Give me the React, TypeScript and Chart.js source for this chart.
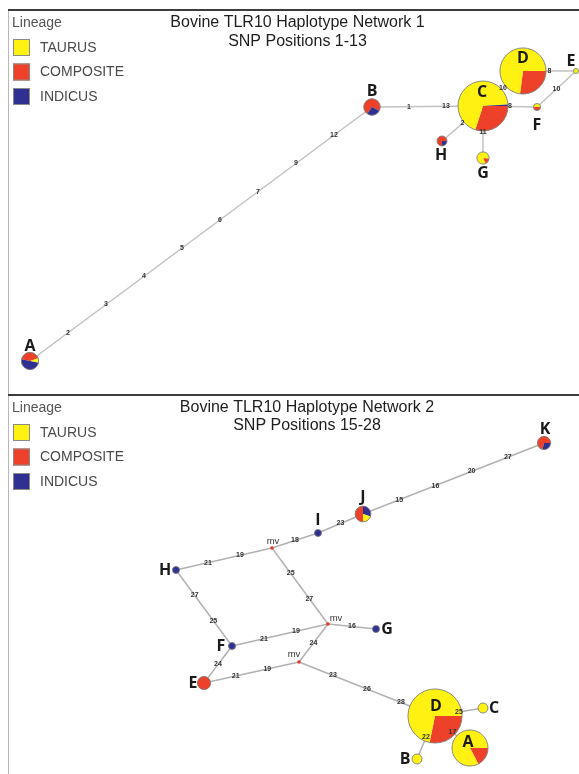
import React, { useEffect, useRef } from 'react';
import { Chart, registerables } from 'chart.js';

Chart.register(...registerables);

// ---------- shared ----------
const lineageNames = ['TAURUS', 'COMPOSITE', 'INDICUS'];
const lineageColors = ['#FFF212', '#EE4129', '#2E3192'];

// ---------- Network 1 (SNP positions 1-13) ----------
const net1Title = ['Bovine TLR10 Haplotype Network 1', 'SNP Positions 1-13'];
const net1Nodes = ['A', 'B', 'C', 'D', 'E', 'F', 'G', 'H'];
const net1X = [30, 372, 483, 523, 576, 537, 483, 442];
const net1Y = [361, 107, 106, 71, 71, 107, 158, 141];
const net1Taurus = [1, 0, 69, 62, 1, 1, 5, 0];
const net1Composite = [5, 8, 30, 23, 0, 1, 1, 3];
const net1Indicus = [6, 3, 1, 0, 0, 0, 0, 1];
const net1EdgeFrom = ['A', 'B', 'C', 'C', 'C', 'C', 'D', 'F'];
const net1EdgeTo = ['B', 'C', 'D', 'F', 'H', 'G', 'E', 'E'];
const net1EdgeSites = [[2, 3, 4, 5, 6, 7, 9, 12], [1, 13], [10], [8], [2], [11], [8], [10]];

// ---------- Network 2 (SNP positions 15-28) ----------
const net2Title = ['Bovine TLR10 Haplotype Network 2', 'SNP Positions 15-28'];
const net2Nodes = ['A', 'B', 'C', 'D', 'E', 'F', 'G', 'H', 'I', 'J', 'K', 'mv1', 'mv2', 'mv3'];
const net2X = [470, 417, 483, 435, 204, 232, 376, 176, 318, 363, 544, 272, 328, 299];
const net2Y = [354, 365, 314, 322, 289, 252, 235, 176, 139, 120, 49, 154, 230, 268];
const net2Taurus = [43, 4, 4, 84, 0, 0, 0, 0, 0, 2, 0, 0, 0, 0];
const net2Composite = [9, 0, 0, 33, 7, 0, 0, 0, 0, 5, 5, 0, 0, 0];
const net2Indicus = [0, 0, 0, 0, 0, 2, 2, 2, 2, 3, 2, 0, 0, 0];
const net2EdgeFrom = ['J', 'I', 'mv1', 'mv1', 'mv1', 'H', 'F', 'mv2', 'mv2', 'F', 'E', 'mv3', 'D', 'D', 'D'];
const net2EdgeTo = ['K', 'J', 'I', 'H', 'mv2', 'F', 'mv2', 'G', 'mv3', 'E', 'mv3', 'D', 'C', 'B', 'A'];
const net2EdgeSites = [[15, 16, 20, 27], [23], [18], [19, 21], [25, 27], [27, 25], [21, 19], [16], [24], [24], [21, 19], [23, 26, 28], [25], [22], [17]];

// ---------- styles (not data) ----------
const FONT = '"Liberation Sans", Arial, Helvetica, sans-serif';
const LABEL_FONT = '"Open Sans", "DejaVu Sans", sans-serif';
const net1StartDeg = [191, 125, 0, 0, 0, 0, 5, 90];
const net1LabelDX = [0, 0, -1, 0, -5, 0, 0, -1];
const net1LabelDY = [-15, -16, -14, -13, -10, 18, 15, 14];
const net2StartDeg = [0, 0, 0, 0, 0, 0, 0, 0, 0, 90, 103, 0, 0, 0];
const net2LabelDX = [-2, -12, 11, 1, -11, -11, 11, -11, 0, 0, 1, 1, 8, -5];
const net2LabelDY = [-6, 0, 0, -10, 0, 0, 0, 0, -13, -17, -14, -7, -6, -8];
const defaultOrder = [1, 0, 2];
const net2Orders: Record<string, number[]> = { J: [1, 2, 0] };

interface NetSpec {
  title: string[];
  titleX: number;
  titleY: number[];
  topLineY: number;
  legendY: number;
  edgeColor: string;
  nodes: string[];
  x: number[];
  y: number[];
  counts: number[][];
  startDeg: number[];
  orders: Record<string, number[]>;
  labelDX: number[];
  labelDY: number[];
  edgeFrom: string[];
  edgeTo: string[];
  edgeSites: number[][];
}

const net1: NetSpec = {
  title: net1Title,
  titleX: 297.5,
  titleY: [23, 42],
  topLineY: 9,
  legendY: 23,
  edgeColor: '#c2c2c2',
  nodes: net1Nodes,
  x: net1X,
  y: net1Y,
  counts: [net1Taurus, net1Composite, net1Indicus],
  startDeg: net1StartDeg,
  orders: {},
  labelDX: net1LabelDX,
  labelDY: net1LabelDY,
  edgeFrom: net1EdgeFrom,
  edgeTo: net1EdgeTo,
  edgeSites: net1EdgeSites,
};

const net2: NetSpec = {
  title: net2Title,
  titleX: 307,
  titleY: [14, 32],
  topLineY: 0,
  legendY: 14,
  edgeColor: '#b2b2b2',
  nodes: net2Nodes,
  x: net2X,
  y: net2Y,
  counts: [net2Taurus, net2Composite, net2Indicus],
  startDeg: net2StartDeg,
  orders: net2Orders,
  labelDX: net2LabelDX,
  labelDY: net2LabelDY,
  edgeFrom: net2EdgeFrom,
  edgeTo: net2EdgeTo,
  edgeSites: net2EdgeSites,
};

const RADIUS_K = 2.5;

function nodeTotal(spec: NetSpec, i: number) {
  return spec.counts[0][i] + spec.counts[1][i] + spec.counts[2][i];
}

function buildConfig(spec: NetSpec, width: number, height: number): any {
  const idx = (name: string) => spec.nodes.indexOf(name);
  const edgeDatasets = spec.edgeFrom.map((f, e) => {
    const a = idx(f);
    const b = idx(spec.edgeTo[e]);
    return {
      type: 'scatter',
      label: f + '-' + spec.edgeTo[e],
      data: [
        { x: spec.x[a], y: spec.y[a] },
        { x: spec.x[b], y: spec.y[b] },
      ],
      showLine: true,
      borderColor: spec.edgeColor,
      borderWidth: 1.5,
      pointRadius: 0,
      pointHoverRadius: 0,
      order: 2,
    };
  });
  const nodeRadii = spec.nodes.map((_, i) => {
    const t = nodeTotal(spec, i);
    return t === 0 ? 1.8 : RADIUS_K * Math.sqrt(t);
  });
  const nodeDataset = {
    type: 'scatter',
    label: 'haplotypes',
    data: spec.nodes.map((_, i) => ({ x: spec.x[i], y: spec.y[i] })),
    pointRadius: nodeRadii,
    pointBackgroundColor: 'rgba(0,0,0,0)',
    pointBorderWidth: 0,
    order: 1,
  };

  const plugin = {
    id: 'haplotypeNetwork',
    beforeDraw(chart: any) {
      const ctx = chart.ctx as CanvasRenderingContext2D;
      ctx.save();
      ctx.fillStyle = '#ffffff';
      ctx.fillRect(0, 0, chart.width, chart.height);
      // frame
      ctx.fillStyle = '#b8b8b8';
      ctx.fillRect(8, spec.topLineY, 1, chart.height - spec.topLineY);
      ctx.fillStyle = '#3c3c3c';
      ctx.fillRect(8, spec.topLineY, chart.width - 8, 2);
      // legend
      ctx.textBaseline = 'middle';
      ctx.textAlign = 'left';
      ctx.font = `14px ${FONT}`;
      ctx.fillStyle = '#555555';
      ctx.fillText('Lineage', 12, spec.legendY);
      lineageNames.forEach((name, k) => {
        const sy = spec.legendY + 16 + k * 24.5;
        ctx.fillStyle = lineageColors[k];
        ctx.fillRect(13, sy, 17, 17);
        ctx.strokeStyle = '#8a8a8a';
        ctx.lineWidth = 1;
        ctx.strokeRect(13.5, sy + 0.5, 16, 16);
        ctx.fillStyle = '#4a4a4a';
        ctx.fillText(name, 40, sy + 9);
      });
      // title
      ctx.textAlign = 'center';
      ctx.fillStyle = '#1e1e1e';
      ctx.font = `16px ${FONT}`;
      spec.title.forEach((t, k) => ctx.fillText(t, spec.titleX, spec.titleY[k]));
      ctx.restore();
    },
    afterDatasetsDraw(chart: any) {
      const ctx = chart.ctx as CanvasRenderingContext2D;
      const xs = chart.scales.x;
      const ys = chart.scales.y;
      const meta = chart.getDatasetMeta(edgeDatasets.length);
      ctx.save();
      // pies
      meta.data.forEach((el: any, i: number) => {
        const cx = el.x;
        const cy = el.y;
        const r = nodeRadii[i];
        const total = nodeTotal(spec, i);
        if (total === 0) {
          ctx.beginPath();
          ctx.arc(cx, cy, r, 0, Math.PI * 2);
          ctx.fillStyle = '#E23A2C';
          ctx.fill();
          return;
        }
        const order = spec.orders[spec.nodes[i]] || defaultOrder;
        let a = (spec.startDeg[i] * Math.PI) / 180;
        order.forEach((k) => {
          const v = spec.counts[k][i];
          if (!v) return;
          const da = (v / total) * Math.PI * 2;
          ctx.beginPath();
          ctx.moveTo(cx, cy);
          ctx.arc(cx, cy, r, a, a + da);
          ctx.closePath();
          ctx.fillStyle = lineageColors[k];
          ctx.fill();
          a += da;
        });
        ctx.beginPath();
        ctx.arc(cx, cy, r, 0, Math.PI * 2);
        ctx.strokeStyle = '#7e7e7e';
        ctx.lineWidth = 0.9;
        ctx.stroke();
      });
      // mutation labels on edges
      ctx.textAlign = 'center';
      ctx.textBaseline = 'middle';
      ctx.font = `bold 7px ${FONT}`;
      ctx.fillStyle = '#333333';
      spec.edgeFrom.forEach((f, e) => {
        const a = idx(f);
        const b = idx(spec.edgeTo[e]);
        const sites = spec.edgeSites[e];
        sites.forEach((s, j) => {
          const t = (j + 1) / (sites.length + 1);
          const vx = spec.x[a] + (spec.x[b] - spec.x[a]) * t;
          const vy = spec.y[a] + (spec.y[b] - spec.y[a]) * t;
          ctx.fillText(String(s), xs.getPixelForValue(vx), ys.getPixelForValue(vy));
        });
      });
      // node labels
      spec.nodes.forEach((name, i) => {
        const px = xs.getPixelForValue(spec.x[i]) + spec.labelDX[i];
        const py = ys.getPixelForValue(spec.y[i]) + spec.labelDY[i];
        if (nodeTotal(spec, i) === 0) {
          ctx.font = `9.5px ${FONT}`;
          ctx.fillStyle = '#333333';
          ctx.fillText('mv', px, py);
        } else {
          ctx.font = `bold 16px ${LABEL_FONT}`;
          ctx.fillStyle = '#1a1a1a';
          ctx.fillText(name, px, py);
        }
      });
      ctx.restore();
    },
  };

  return {
    type: 'scatter',
    data: { datasets: [...edgeDatasets, nodeDataset] },
    options: {
      animation: false,
      responsive: false,
      maintainAspectRatio: false,
      events: [],
      layout: { padding: 0, autoPadding: false },
      scales: {
        x: { type: 'linear', min: 0, max: width, display: false },
        y: { type: 'linear', min: 0, max: height, reverse: true, display: false },
      },
      plugins: {
        legend: { display: false },
        tooltip: { enabled: false },
        title: { display: false },
      },
    },
    plugins: [plugin],
  };
}

function NetworkPanel({ spec, width, height }: { spec: NetSpec; width: number; height: number }) {
  const ref = useRef<HTMLCanvasElement>(null);
  useEffect(() => {
    const chart = new Chart(ref.current as HTMLCanvasElement, buildConfig(spec, width, height));
    return () => chart.destroy();
  }, [spec, width, height]);
  return <canvas ref={ref} width={width} height={height} style={{ display: 'block', width, height }} />;
}

export default function App() {
  return (
    <div style={{ position: 'absolute', left: 0, top: 0, width: 579, height: 774, background: '#fff' }}>
      <NetworkPanel spec={net1} width={579} height={394} />
      <NetworkPanel spec={net2} width={579} height={380} />
    </div>
  );
}
